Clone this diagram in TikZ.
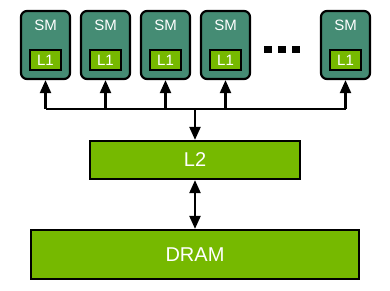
\documentclass[tikz,border=0pt]{standalone}
\usepackage{fontspec}
\setmainfont{Liberation Sans}
\usepackage{tikz}
\usetikzlibrary{arrows.meta}
\definecolor{smcolor}{RGB}{69,140,116}
\definecolor{nvgreen}{RGB}{118,185,0}

\begin{document}
\begin{tikzpicture}[x=1pt,y=1pt,
    smbox/.style={draw,line width=2.2pt,fill=smcolor,rounded corners=6pt,minimum width=49pt,minimum height=68pt},
    cachebox/.style={draw,line width=2.2pt,fill=nvgreen,text=white,inner sep=0pt},
    link/.style={line width=2.2pt,-{Triangle[width=11pt,length=13pt]}},
    dotbox/.style={fill=black,minimum size=7.5pt,inner sep=0pt}]
    \useasboundingbox (0,0) rectangle (390,290);

    \node[smbox] (sm1) at (45.5,245) {};
    \node[smbox] (sm2) at (105.5,245) {};
    \node[smbox] (sm3) at (165.5,245) {};
    \node[smbox] (sm4) at (225.5,245) {};
    \node[smbox] (sm5) at (345.5,245) {};

    \node[text=white,font=\fontsize{15}{16}\selectfont] at (45.5,265) {SM};
    \node[text=white,font=\fontsize{15}{16}\selectfont] at (105.5,265) {SM};
    \node[text=white,font=\fontsize{15}{16}\selectfont] at (165.5,265) {SM};
    \node[text=white,font=\fontsize{15}{16}\selectfont] at (225.5,265) {SM};
    \node[text=white,font=\fontsize{15}{16}\selectfont] at (345.5,265) {SM};

    \node[cachebox,minimum width=31pt,minimum height=20pt,font=\fontsize{15}{16}\selectfont] (l1a) at (45.5,230) {L1};
    \node[cachebox,minimum width=31pt,minimum height=20pt,font=\fontsize{15}{16}\selectfont] (l1b) at (105.5,230) {L1};
    \node[cachebox,minimum width=31pt,minimum height=20pt,font=\fontsize{15}{16}\selectfont] (l1c) at (165.5,230) {L1};
    \node[cachebox,minimum width=31pt,minimum height=20pt,font=\fontsize{15}{16}\selectfont] (l1d) at (225.5,230) {L1};
    \node[cachebox,minimum width=31pt,minimum height=20pt,font=\fontsize{15}{16}\selectfont] (l1e) at (345.5,230) {L1};

    \node[dotbox] (d1) at (268,240.5) {};
    \node[dotbox] (d2) at (282,240.5) {};
    \node[dotbox] (d3) at (296,240.5) {};

    \node[cachebox,minimum width=210pt,minimum height=38pt,font=\fontsize{20}{22}\selectfont] (l2) at (195,130) {L2};
    \node[cachebox,minimum width=328pt,minimum height=49pt,font=\fontsize{20}{22}\selectfont] (dram) at (195,35.5) {DRAM};

    \coordinate (bus) at (195,181);
    \draw[line width=2.2pt] (sm1.south |- bus) -- (sm5.south |- bus);
    \draw[link] (sm1.south |- bus) -- (sm1.south);
    \draw[link] (sm2.south |- bus) -- (sm2.south);
    \draw[link] (sm3.south |- bus) -- (sm3.south);
    \draw[link] (sm4.south |- bus) -- (sm4.south);
    \draw[link] (sm5.south |- bus) -- (sm5.south);
    \draw[link] (bus) -- (l2.north);
    \draw[link,{Triangle[width=11pt,length=13pt]}-{Triangle[width=11pt,length=13pt]}] (l2.south) -- (dram.north);
\end{tikzpicture}
\end{document}
